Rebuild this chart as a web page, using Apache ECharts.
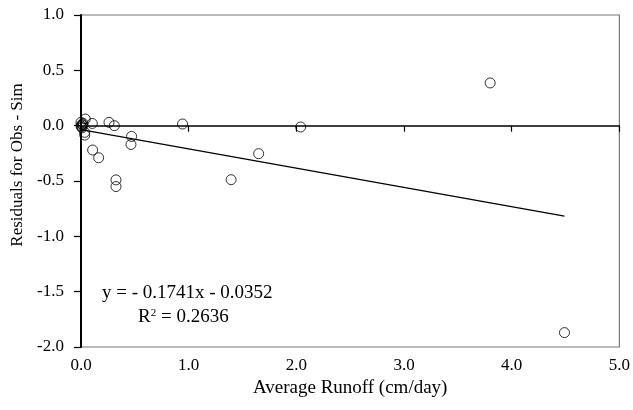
<!DOCTYPE html>
<html>
<head>
<meta charset="utf-8">
<script src="https://cdn.jsdelivr.net/npm/echarts@6/dist/echarts.min.js"></script>
<style>
html,body{margin:0;padding:0;background:#fff;}
#chart{width:633px;height:410px;}
</style>
</head>
<body>
<div id="chart"></div>
<script>
// Observed residuals (x = average runoff cm/day, y = residual)
var runoffX = [0.00, 0.01, 0.005, 0.02, 0.00, 0.01, 0.015, 0.04, 0.105, 0.26, 0.31, 0.034, 0.035, 0.108, 0.164, 0.325, 0.325, 0.47, 0.464, 0.943, 2.04, 1.65, 1.394, 3.80, 4.49];
var residY = [0.00, 0.01, -0.01, 0.02, 0.03, -0.02, 0.005, 0.06, 0.02, 0.03, 0.00, -0.06, -0.085, -0.22, -0.29, -0.49, -0.55, -0.097, -0.17, 0.015, -0.012, -0.253, -0.488, 0.386, -1.87];
// Linear trendline endpoints
var trendX = [0.0, 4.49];
var trendY = [-0.0352, -0.817];
var xTicks = ['0.0', '1.0', '2.0', '3.0', '4.0', '5.0'];
var yTicks = ['-2.0', '-1.5', '-1.0', '-0.5', '0.0', '0.5', '1.0'];
var eqText = 'y = - 0.1741x - 0.0352';
var r2Text = '0.2636';

var points = runoffX.map(function (x, i) { return [x, residY[i]]; });
var trend = trendX.map(function (x, i) { return [x, trendY[i]]; });
var font = 'Liberation Serif';

var chart = echarts.init(document.getElementById('chart'), null, {renderer: 'canvas'});
chart.setOption({
  animation: false,
  backgroundColor: '#fff',
  grid: {left: 81, right: 13, top: 15, bottom: 63, show: true, borderColor: '#777', borderWidth: 1.2, backgroundColor: 'transparent'},
  xAxis: [{
    type: 'value', min: 0, max: 5, interval: 1,
    axisLine: {show: true, onZero: true, lineStyle: {color: '#000', width: 1.5}},
    axisTick: {show: true, inside: false, length: 6, lineStyle: {color: '#000', width: 1.2}},
    axisLabel: {show: false},
    splitLine: {show: false}
  }, {
    type: 'value', min: 0, max: 5, interval: 1, position: 'bottom',
    axisLine: {show: false, onZero: false},
    axisTick: {show: false},
    axisLabel: {show: true, margin: 10, color: '#000', fontFamily: font, fontSize: 17,
      formatter: function (v) { return xTicks[Math.round(v)]; }},
    splitLine: {show: false},
    name: 'Average Runoff (cm/day)', nameLocation: 'middle', nameGap: 25,
    nameTextStyle: {color: '#000', fontFamily: font, fontSize: 19}
  }],
  yAxis: {
    type: 'value', min: -2, max: 1, interval: 0.5,
    axisLine: {show: true, onZero: false, lineStyle: {color: '#000', width: 2}},
    axisTick: {show: true, inside: false, length: 7, lineStyle: {color: '#000', width: 1.2}},
    axisLabel: {margin: 17, color: '#000', fontFamily: font, fontSize: 17,
      formatter: function (v) { return yTicks[Math.round((v + 2) * 2)]; }},
    splitLine: {show: false},
    name: 'Residuals for Obs - Sim', nameLocation: 'middle', nameGap: 55, nameRotate: 90,
    nameTextStyle: {color: '#000', fontFamily: font, fontSize: 17, padding: [0, 0, 0, 32]}
  },
  series: [{
    type: 'line', xAxisIndex: 0, data: trend, symbol: 'none',
    lineStyle: {color: '#000', width: 1.2}, silent: true
  }, {
    type: 'scatter', xAxisIndex: 0, data: points, symbol: 'circle', symbolSize: 10,
    itemStyle: {color: 'rgba(0,0,0,0)', borderColor: '#000', borderWidth: 1}
  }],
  graphic: [{
    type: 'text', left: 102, top: 284,
    style: {text: eqText, fill: '#000', font: '19px "Liberation Serif"'}
  }, {
    type: 'text', left: 138, top: 308,
    style: {
      text: '{a|R}{s|2}{a| = ' + r2Text + '}',
      rich: {
        a: {fill: '#000', fontFamily: font, fontSize: 19},
        s: {fill: '#000', fontFamily: font, fontSize: 11, verticalAlign: 'top', padding: [0, 0, 8, 0]}
      }
    }
  }]
});
</script>
</body>
</html>
